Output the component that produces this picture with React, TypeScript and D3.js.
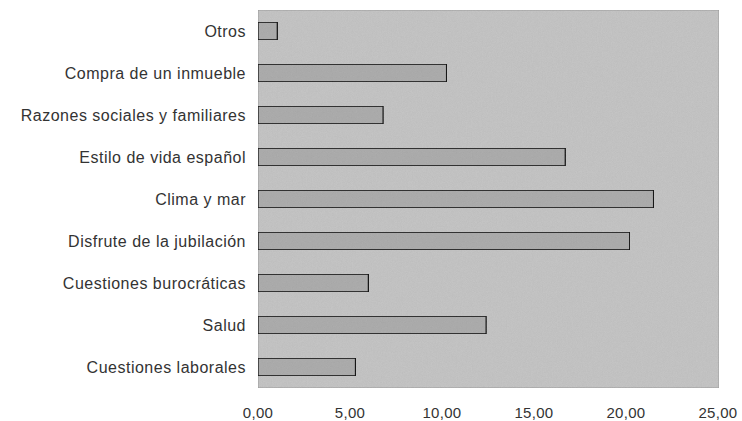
import React from 'react';
import * as d3 from 'd3';

const categories = [
  'Otros',
  'Compra de un inmueble',
  'Razones sociales y familiares',
  'Estilo de vida español',
  'Clima y mar',
  'Disfrute de la jubilación',
  'Cuestiones burocráticas',
  'Salud',
  'Cuestiones laborales',
];
const values = [1.05, 10.25, 6.8, 16.7, 21.5, 20.2, 6.0, 12.4, 5.3];
const ticks = [0, 5, 10, 15, 20, 25];

const App: React.FC = () => {
  const width = 742;
  const height = 421;
  const left = 258;
  const right = 719;
  const top = 10;
  const bottom = 388;

  const x = d3.scaleLinear().domain([0, 25]).range([left, 718]);
  const y = d3.scaleBand<string>()
    .domain(categories)
    .range([top, bottom])
    .paddingInner(0.58)
    .paddingOuter(0.29);

  const fmt = (v: number) => v.toFixed(2).replace('.', ',');
  const font = "'Liberation Sans', Arial, sans-serif";

  return (
    <svg width={width} height={height} style={{ position: 'absolute', left: 0, top: 0, background: '#fff' }}>
      <defs>
        <filter id="grain" x="0" y="0" width="100%" height="100%">
          <feTurbulence type="fractalNoise" baseFrequency="1.2" numOctaves="1" seed="3" result="n" />
          <feColorMatrix in="n" type="saturate" values="0" result="g" />
          <feComponentTransfer in="g" result="gg">
            <feFuncA type="linear" slope="0" intercept="0.15" />
          </feComponentTransfer>
          <feComposite in="gg" in2="SourceGraphic" operator="in" result="tex" />
          <feBlend in="SourceGraphic" in2="tex" mode="multiply" />
        </filter>
      </defs>

      {/* plot background */}
      <rect x={left} y={top} width={right - left} height={bottom - top}
        fill="#c8c8c8" stroke="#a0a0a0" strokeWidth={1} filter="url(#grain)" />

      {/* bars */}
      {categories.map((c, i) => (
        <rect key={c}
          x={x(0)}
          y={y(c)!}
          width={x(values[i]) - x(0)}
          height={y.bandwidth()}
          fill="#b0b0b0"
          stroke="#1a1a1a"
          strokeWidth={1.3}
          filter="url(#grain)" />
      ))}

      {/* category labels */}
      {categories.map((c) => (
        <text key={c} x={246} y={y(c)! + y.bandwidth() / 2} dy="0.35em"
          textAnchor="end" fontFamily={font} fontSize={16} letterSpacing={0.5} fill="#333">
          {c}
        </text>
      ))}

      {/* x tick labels */}
      {ticks.map((t) => (
        <text key={t} x={x(t)} y={413} dy="0.35em" textAnchor="middle"
          fontFamily={font} fontSize={15} letterSpacing={0.3} fill="#333">
          {fmt(t)}
        </text>
      ))}
    </svg>
  );
};

export default App;
